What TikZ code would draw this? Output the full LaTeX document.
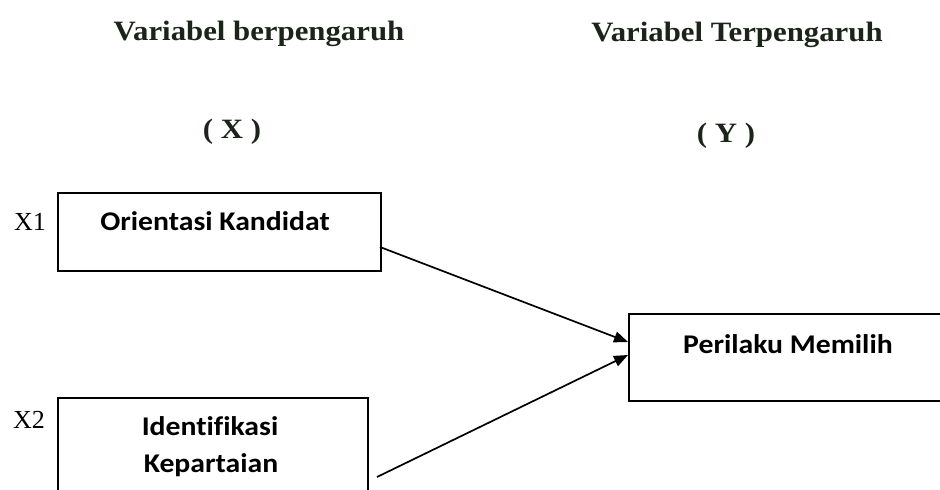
\documentclass[tikz,border=0pt]{standalone}
\usepackage{fontspec}
\setmainfont{Liberation Serif}
\newfontfamily\titlefont{Liberation Serif}[FakeStretch=1.1]
\newfontfamily\boxfont{Carlito}[FakeStretch=1.1, Ligatures={NoCommon}]
\usetikzlibrary{arrows.meta}
\definecolor{titlecol}{RGB}{26,36,24}
\begin{document}
\begin{tikzpicture}[x=1pt,y=-1pt,
  box/.style={draw=black, line width=1.8pt, rectangle, inner sep=0pt, anchor=north west},
  boxtxt/.style={font=\boxfont\bfseries\fontsize{27}{32}\selectfont, anchor=base, inner sep=0pt},
  title/.style={font=\titlefont\bfseries\fontsize{28}{33}\selectfont, text=titlecol, anchor=base, inner sep=0pt},
  xlab/.style={font=\fontsize{26}{30}\selectfont, anchor=base, inner sep=0pt},
  conn/.style={line width=1.7pt, -{Triangle[length=14pt,width=11pt]}}]
\useasboundingbox (0,0) rectangle (940,490);
\clip (0,0) rectangle (940,490);
\fill[white] (0,0) rectangle (940,490);
% titles
\node[title] (t1) at (259,40) {Variabel berpengaruh};
\node[title] (t2) at (737,41) {Variabel Terpengaruh};
\node[title] (tx) at (232,138) {( X )};
\node[title] (ty) at (726,142) {( Y )};
% boxes
\node[box, minimum width=323pt, minimum height=78pt] (b1) at (57,192) {};
\node[box, minimum width=310pt, minimum height=130pt] (b2) at (57,397) {};
\node[box, minimum width=340pt, minimum height=87pt] (b3) at (628,313) {};
% box texts
\node[boxtxt] (o1) at (215,230) {Orientasi Kandidat};
\node[boxtxt] (o2) at (210,435) {Identifikasi};
\node[boxtxt] (o3) at (211,472) {Kepartaian};
\node[boxtxt] (o4) at (788,353) {Perilaku Memilih};
% side labels
\node[xlab] (x1) at (30,230) {X1};
\node[xlab] (x2) at (29,428) {X2};
% connectors
\coordinate (s1) at (380,247);
\coordinate (s2) at (377,477);
\coordinate (h1) at (0,342);
\coordinate (h2) at (0,355);
\draw[conn] (s1) -- (b3.west |- h1);
\draw[conn] (s2) -- (b3.west |- h2);
\end{tikzpicture}
\end{document}
